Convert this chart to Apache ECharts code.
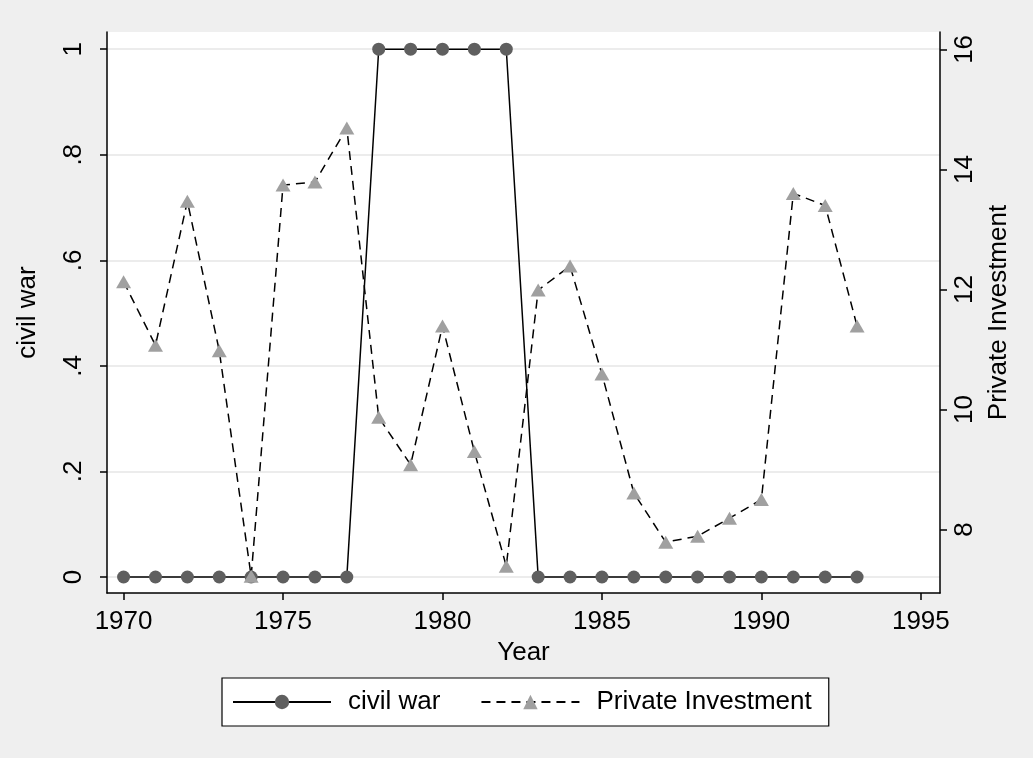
<!DOCTYPE html>
<html><head><meta charset="utf-8">
<script src="https://cdn.jsdelivr.net/npm/echarts@6/dist/echarts.min.js"></script>
<style>html,body{margin:0;padding:0;background:#efefef}#c{width:1033px;height:758px}</style>
</head><body><div id="c"></div>
<script>
const years = [1970,1971,1972,1973,1974,1975,1976,1977,1978,1979,1980,1981,1982,1983,1984,1985,1986,1987,1988,1989,1990,1991,1992,1993];
const civilWar = [0,0,0,0,0,0,0,0,1,1,1,1,1,0,0,0,0,0,0,0,0,0,0,0];
const privateInvestment = [12.13,11.07,13.47,10.98,7.22,13.74,13.79,14.69,9.87,9.08,11.39,9.30,7.39,11.99,12.39,10.59,8.61,7.79,7.89,8.19,8.50,13.60,13.40,11.39];
const xTicks = [1970,1975,1980,1985,1990,1995];
const leftTicks = [0,0.2,0.4,0.6,0.8,1];
const rightTicks = [8,10,12,14,16];

const FONT = 'Liberation Sans, Arial, sans-serif';
const FS = 26;
const chart = echarts.init(document.getElementById('c'));
const fmtLeft = v => (v === 0 ? '0' : v === 1 ? '1' : String(Math.round(v*10)/10).replace(/^0/, ''));
const axisCommon = {
  axisLine: {show: true, onZero: false, lineStyle: {color: '#000', width: 1.5}},
  axisTick: {show: true, length: 7, lineStyle: {color: '#000', width: 1.5}},
  nameTextStyle: {fontFamily: FONT, fontSize: FS, color: '#000'},
};
chart.setOption({
  backgroundColor: '#efefef',
  animation: false,
  grid: {left: 107, right: 93, top: 32, bottom: 165, backgroundColor: '#fff', show: true, borderWidth: 0},
  legend: {
    left: 222, top: 678, orient: 'horizontal',
    backgroundColor: '#fff', borderColor: '#000', borderWidth: 1.2, borderRadius: 0,
    padding: [11, 17, 11, 10], itemWidth: 98, itemHeight: 18, itemGap: 40,
    textStyle: {fontFamily: FONT, fontSize: FS, color: '#000', padding: [0, 0, 0, 12]},
    data: ['civil war', 'Private Investment']
  },
  xAxis: Object.assign({}, axisCommon, {
    type: 'value', min: 1969.48, max: 1995.6,
    name: 'Year', nameLocation: 'middle', nameGap: 45,
    axisTick: Object.assign({}, axisCommon.axisTick, {customValues: xTicks}),
    axisLabel: {customValues: xTicks, formatter: v => String(v), fontFamily: FONT, fontSize: FS, color: '#000', margin: 16},
    splitLine: {show: false}
  }),
  yAxis: [
    Object.assign({}, axisCommon, {
      type: 'value', position: 'left', min: -0.0303, max: 1.0326,
      name: 'civil war', nameLocation: 'middle', nameGap: 66, nameRotate: 90,
      axisTick: Object.assign({}, axisCommon.axisTick, {customValues: leftTicks}),
      axisLabel: {customValues: leftTicks, rotate: 90, formatter: fmtLeft, fontFamily: FONT, fontSize: FS, color: '#000', margin: 20},
      splitLine: {show: true, lineStyle: {color: '#e6e6e6', width: 1.5}}
    }),
    Object.assign({}, axisCommon, {
      type: 'value', position: 'right', min: 6.943, max: 16.29,
      name: 'Private Investment', nameLocation: 'middle', nameGap: 45, nameRotate: 90,
      axisTick: Object.assign({}, axisCommon.axisTick, {customValues: rightTicks}),
      axisLabel: {customValues: rightTicks, rotate: 90, fontFamily: FONT, fontSize: FS, color: '#000', margin: 12},
      splitLine: {show: false}
    })
  ],
  series: [
    {
      name: 'civil war', type: 'line', yAxisIndex: 0,
      data: years.map((y, i) => [y, civilWar[i]]),
      symbol: 'circle', symbolSize: 13,
      itemStyle: {color: '#5f5f5f'},
      lineStyle: {color: '#000', width: 1.5, type: 'solid'}
    },
    {
      name: 'Private Investment', type: 'line', yAxisIndex: 1,
      data: years.map((y, i) => [y, privateInvestment[i]]),
      symbol: 'triangle', symbolSize: [15, 13],
      itemStyle: {color: '#a0a0a0'},
      lineStyle: {color: '#000', width: 1.5, type: [9, 6]}
    }
  ]
});
</script></body></html>
